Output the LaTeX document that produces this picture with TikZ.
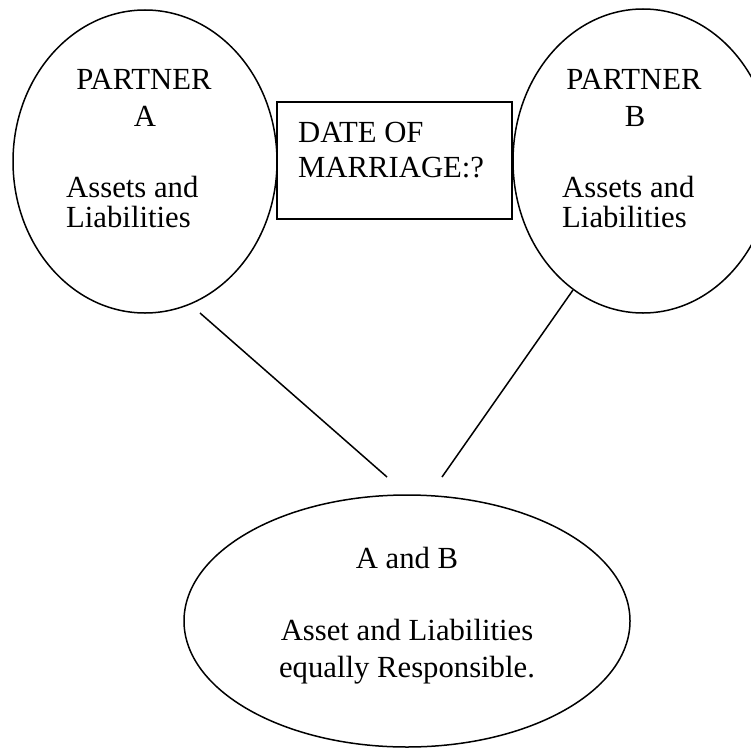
\documentclass[tikz,border=0pt]{standalone}
\usepackage{fontspec}
\setmainfont{Liberation Serif}
\usetikzlibrary{shapes.geometric}
\begin{document}
\begin{tikzpicture}[x=1pt,y=-1pt,
  shape line/.style={draw=black, line width=1.5pt},
  oval/.style={shape line, ellipse, inner sep=0pt},
  frame/.style={shape line, rectangle, inner sep=0pt},
  link/.style={draw=black, line width=1.5pt},
  txt/.style={inner sep=0pt, font=\fontsize{30.7}{30}\selectfont},
  txtc/.style={txt, anchor=base},
  txtl/.style={txt, anchor=base west}]
\useasboundingbox (0,0) rectangle (751,749);
\clip (0,0) rectangle (751,749);
% shapes
\node[oval, minimum width=264pt, minimum height=303pt] (pa) at (145,161.5) {};
\node[oval, minimum width=260pt, minimum height=304pt] (pb) at (643,161) {};
\node[frame, minimum width=235pt, minimum height=117pt] (dm) at (394.5,160.5) {};
\node[oval, minimum width=446pt, minimum height=252pt] (ab) at (407,621) {};
% texts
\node[txtc] (pat1) at (144,90) {PARTNER};
\node[txtc] (pat2) at (145,126) {A};
\node[txtl] (pat3) at (66,197) {Assets and};
\node[txtl] (pat4) at (66,227) {Liabilities};
\node[txtc] (pbt1) at (634,90) {PARTNER};
\node[txtc] (pbt2) at (635,126) {B};
\node[txtl] (pbt3) at (562,197) {Assets and};
\node[txtl] (pbt4) at (562,227) {Liabilities};
\node[txtl] (dmt1) at (298,142) {DATE OF};
\node[txtl] (dmt2) at (298,177) {MARRIAGE:?};
\node[txtc] (abt1) at (407,568) {A and B};
\node[txtc] (abt2) at (407,640) {Asset and Liabilities};
\node[txtc] (abt3) at (407,677) {equally Responsible.};
% connectors
\coordinate (la) at (200,313);
\coordinate (lb) at (387,477);
\coordinate (ra) at (573,290);
\coordinate (rb) at (442,477);
\draw[link] (la) -- (lb);
\draw[link] (ra) -- (rb);
\end{tikzpicture}
\end{document}
